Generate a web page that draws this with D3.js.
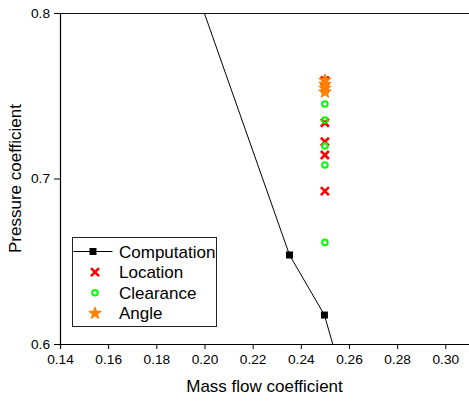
<!DOCTYPE html>
<html lang="en">
<head>
    <meta charset="UTF-8">
    <title>Pressure vs mass flow coefficient</title>
    <script src="https://cdnjs.cloudflare.com/ajax/libs/d3/7.8.5/d3.min.js"></script>
    <style>
        body { margin: 0; background: #fff; }
        svg { display: block; font-family: "Liberation Sans", Arial, sans-serif; }
    </style>
</head>
<body>
    <div id="wrapper"></div>
    <script>
        // data (first/last computation points lie outside the plot)
        const computationX = [0.19, 0.2353, 0.2498, 0.256]
        const computationY = [0.841, 0.6538, 0.6175, 0.586]

        const locationX = [0.25, 0.25, 0.25, 0.25, 0.25, 0.25]
        const locationY = [0.7592, 0.7550, 0.7337, 0.7222, 0.7142, 0.6924]

        const clearanceX = [0.25, 0.25, 0.25, 0.25, 0.25]
        const clearanceY = [0.7450, 0.7353, 0.7196, 0.7082, 0.6614]

        const angleX = [0.25, 0.25, 0.25, 0.25]
        const angleY = [0.7594, 0.7570, 0.7546, 0.7522]

        const xTicks = [0.14, 0.16, 0.18, 0.20, 0.22, 0.24, 0.26, 0.28, 0.30]
        const yTicks = [0.6, 0.7, 0.8]
        const legendLabels = ['Computation', 'Location', 'Clearance', 'Angle']

        const zip = (xs, ys) => xs.map((x, i) => [x, ys[i]])

        function drawChart() {
            const dimensions = {
                width: 469,
                height: 402,
                margin: { top: 13, right: 0, bottom: 58, left: 60 }
            }
            dimensions.boundedWidth = dimensions.width - dimensions.margin.left - dimensions.margin.right
            dimensions.boundedHeight = dimensions.height - dimensions.margin.top - dimensions.margin.bottom

            const wrapper = d3.select('#wrapper')
                .append('svg')
                    .attr('width', dimensions.width)
                    .attr('height', dimensions.height)

            const bounds = wrapper.append('g')
                .attr('transform', `translate(${dimensions.margin.left},${dimensions.margin.top})`)

            // scales
            const xScale = d3.scaleLinear()
                .domain([0.14, 0.31])
                .range([0, dimensions.boundedWidth + 0.4])

            const yScale = d3.scaleLinear()
                .domain([0.6, 0.8])
                .range([dimensions.boundedHeight, 0])

            bounds.append('clipPath')
                .attr('id', 'plot-clip')
                .append('rect')
                    .attr('width', dimensions.boundedWidth + 1)
                    .attr('height', dimensions.boundedHeight)

            // frame: top line
            bounds.append('line')
                .attr('x1', 0)
                .attr('x2', xScale(0.31))
                .attr('y1', 0.5)
                .attr('y2', 0.5)
                .attr('stroke', '#111')
                .attr('stroke-width', 1.2)

            // axes
            const xAxis = bounds.append('g')
                .attr('transform', `translate(0,${dimensions.boundedHeight})`)
            xAxis.call(d3.axisBottom(xScale)
                .tickValues(d3.range(0.15, 0.31, 0.02))
                .tickSize(3)
                .tickFormat(''))
            xAxis.call(d3.axisBottom(xScale)
                .tickValues(xTicks)
                .tickSize(5)
                .tickPadding(5)
                .tickFormat(d3.format('.2f')))

            const yAxis = bounds.append('g')
            yAxis.call(d3.axisLeft(yScale)
                .tickValues([0.65, 0.75])
                .tickSize(3)
                .tickFormat(''))
            yAxis.call(d3.axisLeft(yScale)
                .tickValues(yTicks)
                .tickSize(6)
                .tickPadding(4)
                .tickFormat(d3.format('.1f')))

            wrapper.selectAll('.domain')
                .attr('stroke', '#000')
                .attr('stroke-width', 1.2)
            wrapper.selectAll('.tick text')
                .attr('fill', '#000')
                .style('font-family', '"Liberation Sans", Arial, sans-serif')
                .style('font-size', '13.7px')

            xAxis.append('text')
                .attr('x', dimensions.boundedWidth / 2)
                .attr('y', 48)
                .attr('fill', '#000')
                .style('font-size', '17px')
                .style('text-anchor', 'middle')
                .text('Mass flow coefficient')

            yAxis.append('text')
                .attr('transform', `translate(${-39},${dimensions.boundedHeight / 2}) rotate(-90)`)
                .attr('fill', '#000')
                .style('font-size', '17px')
                .style('text-anchor', 'middle')
                .text('Pressure coefficient')

            // computation line
            const plot = bounds.append('g').attr('clip-path', 'url(#plot-clip)')
            const compData = zip(computationX, computationY)
            plot.append('path')
                .datum(compData)
                .attr('fill', 'none')
                .attr('stroke', '#000')
                .attr('stroke-width', 1)
                .attr('d', d3.line()
                    .x(d => xScale(d[0]))
                    .y(d => yScale(d[1])))
            plot.selectAll('.comp')
                .data(compData)
                .join('rect')
                    .attr('class', 'comp')
                    .attr('x', d => xScale(d[0]) - 3.5)
                    .attr('y', d => yScale(d[1]) - 3.5)
                    .attr('width', 7)
                    .attr('height', 7)
                    .attr('fill', '#000')

            const crossPath = 'M-4,-4L4,4M-4,4L4,-4'
            const star = d3.symbol().type(d3.symbolStar).size(42)

            plot.selectAll('.loc')
                .data(zip(locationX, locationY))
                .join('path')
                    .attr('class', 'loc')
                    .attr('transform', d => `translate(${xScale(d[0])},${yScale(d[1])})`)
                    .attr('d', crossPath)
                    .attr('stroke', '#ff0000')
                    .attr('stroke-width', 2.6)
                    .attr('fill', 'none')

            plot.selectAll('.clr')
                .data(zip(clearanceX, clearanceY))
                .join('circle')
                    .attr('class', 'clr')
                    .attr('cx', d => xScale(d[0]))
                    .attr('cy', d => yScale(d[1]))
                    .attr('r', 2.8)
                    .attr('fill', 'none')
                    .attr('stroke', '#00ff00')
                    .attr('stroke-width', 2)

            plot.selectAll('.ang')
                .data(zip(angleX, angleY))
                .join('path')
                    .attr('class', 'ang')
                    .attr('transform', d => `translate(${xScale(d[0])},${yScale(d[1])})`)
                    .attr('d', star)
                    .attr('fill', '#ff8000')
                    .attr('stroke', '#ff8000')
                    .attr('stroke-width', 1.2)
                    .attr('stroke-linejoin', 'round')

            // legend
            const legend = bounds.append('g')
                .attr('transform', `translate(${72.5 - dimensions.margin.left},${237.5 - dimensions.margin.top})`)
            legend.append('rect')
                .attr('width', 144)
                .attr('height', 89)
                .attr('fill', '#fff')
                .attr('stroke', '#222')
                .attr('stroke-width', 1)

            const rowY = i => 14 + i * 20.6
            const markerX = 22.5
            legend.append('line')
                .attr('x1', 1).attr('x2', 40)
                .attr('y1', rowY(0)).attr('y2', rowY(0))
                .attr('stroke', '#000')
            legend.append('rect')
                .attr('x', 20.5 - 3.5).attr('y', rowY(0) - 3.5)
                .attr('width', 7).attr('height', 7)
                .attr('fill', '#000')
            legend.append('path')
                .attr('transform', `translate(${markerX},${rowY(1)})`)
                .attr('d', crossPath)
                .attr('stroke', '#ff0000')
                .attr('stroke-width', 2.6)
            legend.append('circle')
                .attr('cx', markerX).attr('cy', rowY(2))
                .attr('r', 2.8)
                .attr('fill', 'none')
                .attr('stroke', '#00ff00')
                .attr('stroke-width', 2)
            legend.append('path')
                .attr('transform', `translate(${markerX},${rowY(3)})`)
                .attr('d', star)
                .attr('fill', '#ff8000')
                .attr('stroke', '#ff8000')
                .attr('stroke-width', 1.2)
                .attr('stroke-linejoin', 'round')

            legend.selectAll('.label')
                .data(legendLabels)
                .join('text')
                    .attr('class', 'label')
                    .attr('x', 46.5)
                    .attr('y', (d, i) => rowY(i) + 6)
                    .attr('fill', '#000')
                    .style('font-size', '17px')
                    .text(d => d)
        }

        drawChart()
    </script>
</body>
</html>
